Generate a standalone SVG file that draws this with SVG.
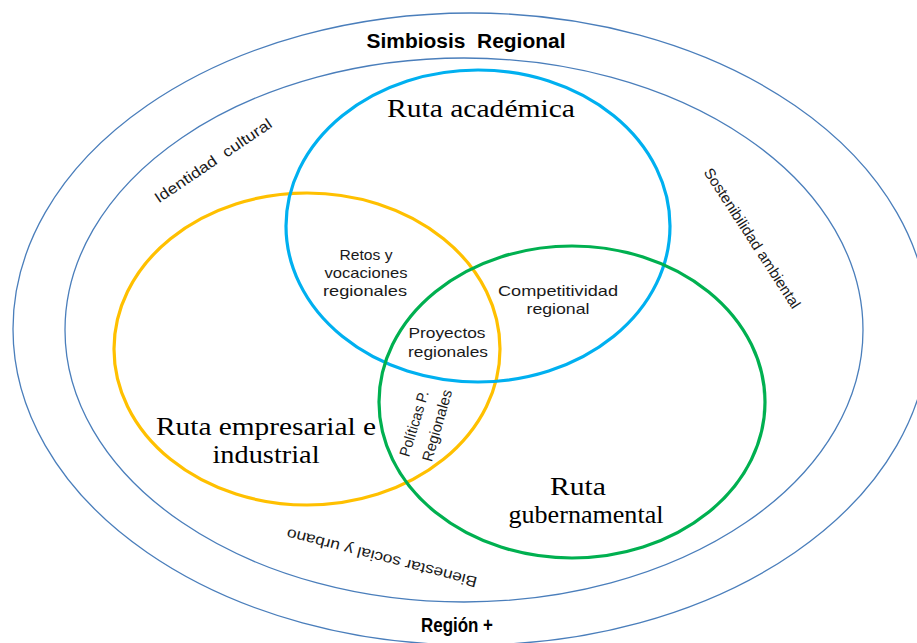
<svg xmlns="http://www.w3.org/2000/svg" width="917" height="643" viewBox="0 0 917 643">
<style>
.ring{fill:none;stroke:#4A7EBB;stroke-width:1.3}
.route{fill:none;stroke-width:3.2}
.sans{font-family:"Liberation Sans","Open Sans",sans-serif;fill:#1a1a1a}
.serif{font-family:"Liberation Serif","Times New Roman",serif;fill:#000;font-size:25px}
.small{font-size:15px}
.bold{font-weight:bold;font-size:20px;fill:#000}
</style>
<rect width="917" height="643" fill="#fff"/>
<g id="region">
<ellipse class="ring" cx="471" cy="329" rx="458" ry="316"/>
<text class="sans bold" x="457" y="632" text-anchor="middle" textLength="72" lengthAdjust="spacingAndGlyphs">Región +</text>
</g>
<g id="simbiosis">
<ellipse class="ring" cx="464" cy="330" rx="399" ry="272"/>
<text class="sans bold" x="466" y="48" text-anchor="middle" textLength="199" lengthAdjust="spacingAndGlyphs">Simbiosis&#160; Regional</text>
</g>
<g id="axes">
<text class="sans small" transform="translate(216,165) rotate(-34)" text-anchor="middle" textLength="138" lengthAdjust="spacingAndGlyphs">Identidad&#160; cultural</text>
<text class="sans small" transform="translate(748,241) rotate(57)" text-anchor="middle" textLength="164" lengthAdjust="spacingAndGlyphs">Sostenibilidad ambiental</text>
<text class="sans small" transform="translate(383,553) rotate(194.5)" text-anchor="middle" textLength="196" lengthAdjust="spacingAndGlyphs">Bienestar social y urbano</text>
</g>
<g id="ruta-empresarial">
<ellipse class="route" stroke="#FFC000" cx="307" cy="349" rx="193" ry="156"/>
<text class="serif" x="266" y="435" text-anchor="middle" textLength="220" lengthAdjust="spacingAndGlyphs">Ruta empresarial e</text>
<text class="serif" x="266" y="463" text-anchor="middle" textLength="107" lengthAdjust="spacingAndGlyphs">industrial</text>
</g>
<g id="ruta-academica">
<ellipse class="route" stroke="#00B0F0" cx="478" cy="226" rx="192" ry="156"/>
<text class="serif" x="481" y="117" text-anchor="middle" textLength="188" lengthAdjust="spacingAndGlyphs">Ruta académica</text>
</g>
<g id="ruta-gubernamental">
<ellipse class="route" stroke="#00B050" cx="572" cy="402" rx="193" ry="156"/>
<text class="serif" x="578" y="495" text-anchor="middle" textLength="56" lengthAdjust="spacingAndGlyphs">Ruta</text>
<text class="serif" x="586" y="523" text-anchor="middle" textLength="155" lengthAdjust="spacingAndGlyphs">gubernamental</text>
</g>
<g id="intersections">
<text class="sans small" x="366" y="260" text-anchor="middle" textLength="53" lengthAdjust="spacingAndGlyphs">Retos y</text>
<text class="sans small" x="366" y="278" text-anchor="middle" textLength="83" lengthAdjust="spacingAndGlyphs">vocaciones</text>
<text class="sans small" x="365" y="296" text-anchor="middle" textLength="84" lengthAdjust="spacingAndGlyphs">regionales</text>
<text class="sans small" x="558" y="296" text-anchor="middle" textLength="120" lengthAdjust="spacingAndGlyphs">Competitividad</text>
<text class="sans small" x="558" y="314" text-anchor="middle" textLength="63" lengthAdjust="spacingAndGlyphs">regional</text>
<text class="sans small" x="447" y="338" text-anchor="middle" textLength="77" lengthAdjust="spacingAndGlyphs">Proyectos</text>
<text class="sans small" x="448" y="357" text-anchor="middle" textLength="80" lengthAdjust="spacingAndGlyphs">regionales</text>
<text class="sans small" transform="translate(419,425) rotate(-73)" text-anchor="middle" textLength="68" lengthAdjust="spacingAndGlyphs">Políticas P.</text>
<text class="sans small" transform="translate(442,427) rotate(-74)" text-anchor="middle" textLength="74" lengthAdjust="spacingAndGlyphs">Regionales</text>
</g>
</svg>
